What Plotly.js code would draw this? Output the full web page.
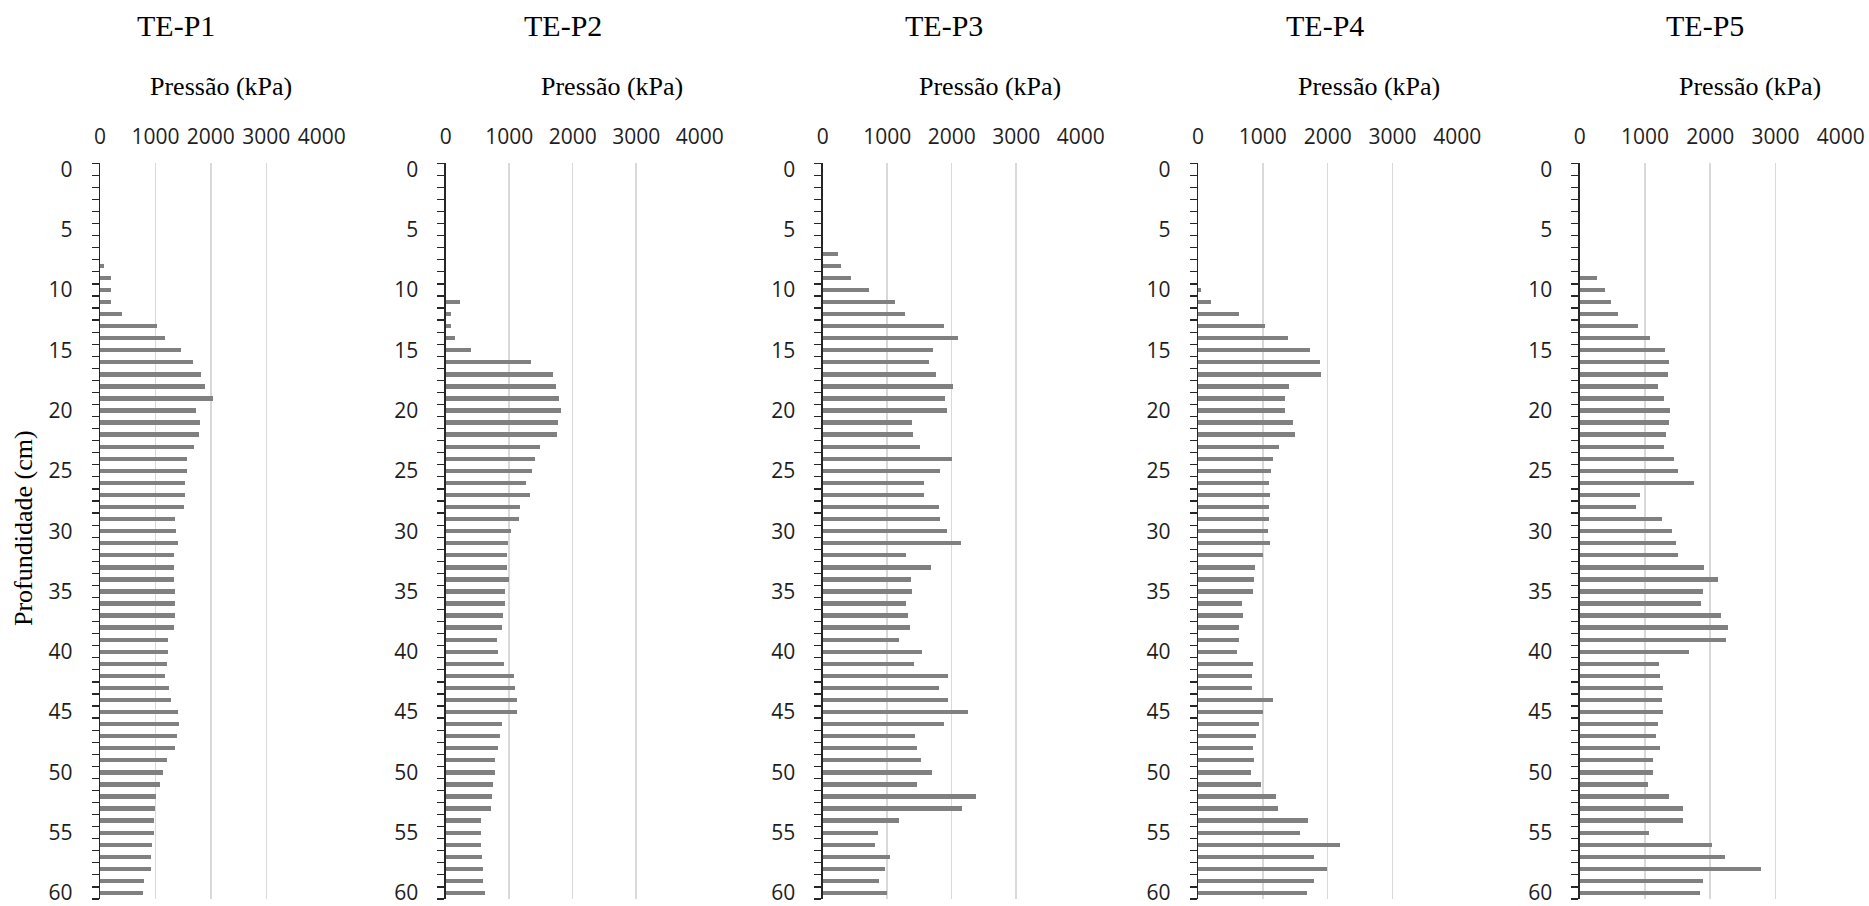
<!DOCTYPE html>
<html>
<head>
<meta charset="utf-8">
<script src="https://cdn.plot.ly/plotly-3.0.1.min.js"></script>
<style>
  html, body { margin: 0; padding: 0; background: #ffffff; }
  #chart { width: 1869px; height: 906px; }
</style>
</head>
<body>
<div id="chart"></div>
<script>
// ---------- DATA ----------
const panelTitles = ["TE-P1", "TE-P2", "TE-P3", "TE-P4", "TE-P5"];
const xAxisTitle = "Pressão (kPa)";
const yAxisTitle = "Profundidade (cm)";
const pressureTicks = [0, 1000, 2000, 3000, 4000];
const depthTicks = [0, 5, 10, 15, 20, 25, 30, 35, 40, 45, 50, 55, 60];

// depth (cm), 0..60
const depths = [0,1,2,3,4,5,6,7,8,9,10,11,12,13,14,15,16,17,18,19,20,
  21,22,23,24,25,26,27,28,29,30,31,32,33,34,35,36,37,38,39,40,
  41,42,43,44,45,46,47,48,49,50,51,52,53,54,55,56,57,58,59,60];

// pressure (kPa) per depth
const tep1 = [null,null,null,null,null,null,null,null,67,192,204,
  204,396,1021,1171,1453,1676,1826,1886,2030,1730,
  1796,1790,1694,1574,1574,1532,1532,1508,1351,1369,
  1399,1327,1327,1327,1345,1345,1351,1327,1231,1219,
  1207,1165,1237,1279,1411,1423,1393,1357,1207,1141,
  1087,1009,997,973,973,931,919,913,787,769];

const tep2 = [null,null,null,null,null,null,null,null,null,null,null,
  226,89,79,142,399,1344,1690,1743,1785,1811,
  1769,1753,1486,1402,1354,1260,1333,1176,1155,1024,
  987,971,971,997,940,934,903,887,803,819,
  919,1071,1097,1118,1129,882,856,824,782,772,
  740,730,719,562,551,562,577,593,593,619];

const tep3 = [null,null,null,null,null,null,null,238,279,444,718,
  1116,1276,1876,2103,1705,1654,1757,2016,1891,1922,
  1385,1395,1514,2000,1824,1576,1576,1809,1824,1922,
  2150,1287,1685,1364,1385,1297,1328,1354,1178,1545,
  1421,1948,1798,1948,2248,1876,1426,1468,1525,1700,
  1468,2382,2160,1178,858,806,1039,972,873,992];

const tep4 = [null,null,null,null,null,null,null,null,null,null,41,
  195,627,1028,1388,1727,1882,1897,1398,1337,1342,
  1465,1491,1249,1162,1126,1095,1110,1095,1100,1085,
  1110,997,874,864,848,684,689,632,627,596,
  853,838,838,1152,997,941,889,848,864,823,
  972,1203,1229,1691,1573,2185,1794,1984,1789,1681];

const tep5 = [null,null,null,null,null,null,null,null,null,261,388,
  480,588,889,1078,1303,1369,1349,1206,1288,1380,
  1375,1323,1288,1446,1502,1758,925,864,1267,1421,
  1472,1513,1911,2116,1886,1865,2172,2269,2248,1671,
  1216,1232,1272,1267,1272,1196,1175,1232,1119,1124,
  1042,1364,1579,1579,1063,2029,2233,2785,1886,1850];

const series = [tep1, tep2, tep3, tep4, tep5];

// ---------- LAYOUT (pixel geometry of the 1869x906 page) ----------
const W = 1869, H = 906;
const plotX = [[100, 321.7], [445.7, 699.7], [822.7, 1080.7], [1198, 1457.3], [1579.7, 1840.7]];
const plotTop = 163.3, plotBottom = 899;
const titleX = [176, 563, 944, 1325, 1705];
const axisTitleX = [221, 612, 990, 1369, 1750];

const tickFont = { family: "Open Sans", size: 21, color: "#1e1e1e" };
const serif = "Liberation Serif";

const traces = [];
const layout = {
  width: W, height: H,
  margin: { l: 0, r: 0, t: 0, b: 0, pad: 0 },
  paper_bgcolor: "#ffffff",
  plot_bgcolor: "rgba(0,0,0,0)",
  showlegend: false,
  bargap: 0,
  annotations: []
};

for (let i = 0; i < 5; i++) {
  const n = i === 0 ? "" : String(i + 1);
  traces.push({
    type: "bar",
    orientation: "h",
    x: series[i],
    y: depths,
    width: 0.36,
    marker: { color: "#808080", line: { width: 0 } },
    xaxis: "x" + n,
    yaxis: "y" + n,
    hoverinfo: "x+y"
  });
  layout["xaxis" + n] = {
    domain: [plotX[i][0] / W, plotX[i][1] / W],
    anchor: "y" + n,
    side: "top",
    range: [0, 4000],
    tickmode: "array",
    tickvals: pressureTicks,
    ticktext: pressureTicks.map(String),
    ticks: "",
    ticklabelstandoff: 14,
    ticklabeloverflow: "allow",
    showgrid: true,
    gridcolor: "#d9d9d9",
    gridwidth: 1.5,
    zeroline: false,
    showline: false,
    tickfont: tickFont,
    fixedrange: true
  };
  layout["yaxis" + n] = {
    domain: [1 - plotBottom / H, 1 - plotTop / H],
    anchor: "x" + n,
    range: [60.5, -0.5],
    tickmode: "array",
    tickvals: depthTicks,
    ticktext: depthTicks.map(String),
    ticks: "",
    ticklabelstandoff: 22,
    ticklabeloverflow: "allow",
    showgrid: false,
    zeroline: false,
    showline: true,
    linecolor: "#262626",
    linewidth: 1.3,
    tickfont: tickFont,
    minor: { tick0: 0.5, dtick: 1, ticks: "outside", ticklen: 7, tickcolor: "#262626", tickwidth: 1.2, showgrid: false },
    fixedrange: true
  };
  layout.annotations.push({
    text: panelTitles[i], xref: "paper", yref: "paper",
    x: titleX[i] / W, y: 1 - 25 / H, xanchor: "center", yanchor: "middle",
    showarrow: false, font: { family: serif, size: 30, color: "#000000" }
  });
  layout.annotations.push({
    text: xAxisTitle, xref: "paper", yref: "paper",
    x: axisTitleX[i] / W, y: 1 - 86 / H, xanchor: "center", yanchor: "middle",
    showarrow: false, font: { family: serif, size: 26, color: "#000000" }
  });
}
layout.annotations.push({
  text: yAxisTitle, xref: "paper", yref: "paper",
  x: 23 / W, y: 1 - 528 / H, xanchor: "center", yanchor: "middle",
  textangle: -90, showarrow: false, font: { family: serif, size: 26, color: "#000000" }
});

Plotly.newPlot("chart", traces, layout, { displayModeBar: false, staticPlot: true });
</script>
</body>
</html>
